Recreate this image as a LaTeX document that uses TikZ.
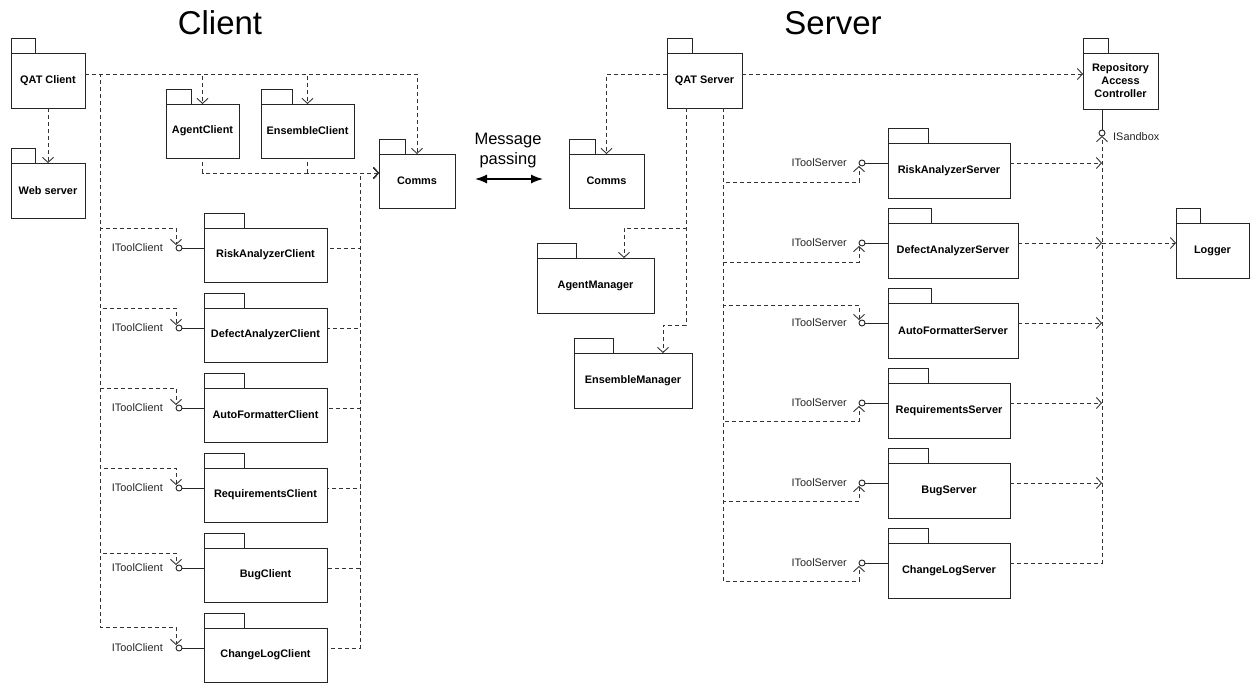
\documentclass[tikz,border=0pt]{standalone}
\usepackage{fontspec}
\setmainfont{Liberation Sans}
\usetikzlibrary{arrows.meta}
\tikzset{
  pkgbox/.style={draw=black!85, line width=0.9pt, fill=white, inner sep=2pt, outer sep=0pt,
    font=\fontsize{10.9}{13}\selectfont\bfseries, align=center},
  tabline/.style={draw=black!85, line width=0.9pt},
  depbase/.style={draw=black!80, line width=0.9pt, dash pattern=on 4pt off 3pt},
  dep/.style={depbase, -{Straight Barb[length=5pt,width=11pt]}},
  deprev/.style={depbase, {Straight Barb[length=5pt,width=11pt]}-},
  lolly/.style={circle, draw=black!85, line width=0.9pt, fill=white, minimum size=6pt,
    inner sep=0pt, outer sep=0pt},
  itf/.style={font=\fontsize{10.9}{13}\selectfont, text=black!85, inner sep=0pt},
  conn/.style={draw=black!85, line width=0.9pt},
  title/.style={font=\fontsize{33}{38}\selectfont, inner sep=0pt},
}
\newcommand\pkg[7]{%
  \node[pkgbox, anchor=north west, minimum width=#4pt, minimum height=#5pt] (#1) at (#2,#3) {#7};
  \draw[tabline] (#1.north west) rectangle ++(#6,-15);
}
\begin{document}
\begin{tikzpicture}[x=1pt,y=-1pt]
\useasboundingbox (0,0) rectangle (1250,683);

% titles
\node[title] (tclient) at (220,23) {Client};
\node[title] (tserver) at (833,23) {Server};

% ---------------- Client side ----------------
\pkg{qatc}{11}{53}{74}{55}{24}{QAT Client}
\pkg{web}{11}{163}{74}{55}{24}{Web server}
\pkg{agentc}{166}{104}{73}{54}{25}{AgentClient}
\pkg{ensc}{261}{104}{93}{54}{31}{EnsembleClient}
\pkg{commc}{379}{154}{76}{54}{26}{Comms}

\draw[dep] (qatc.south) -- (web.north);
\draw[dep] ([yshift=-21pt]qatc.north east) -| (agentc.north);
\draw[dep] ([yshift=-21pt]qatc.north east) -| (ensc.north);
\draw[dep] ([yshift=-21pt]qatc.north east) -| (commc.north);
\draw[deprev] ([yshift=-19pt]commc.north west) -| (agentc.south);
\draw[deprev] ([yshift=-19pt]commc.north west) -| (ensc.south);

\foreach \n/\t/\b/\txt in {
  crisk/228/228/RiskAnalyzerClient,
  cdef/308/308/DefectAnalyzerClient,
  cauto/388/388/AutoFormatterClient,
  creq/468/468/RequirementsClient,
  cbug/548/553/BugClient,
  ccl/628/627/ChangeLogClient}{
  \pkg{\n}{204}{\t}{123}{54}{40}{\txt}
  \node[lolly] (s\n) at (179,\t+20) {};
  \draw[conn] (s\n) -- (\n.west |- s\n);
  \node[itf, anchor=east] (l\n) at (163,\t+20) {IToolClient};
  \draw[dep] ([yshift=-21pt]qatc.north east) -| (100,\b) -| ([xshift=-3pt]s\n.north);
  \draw[deprev] ([yshift=-19pt]commc.north west) -- (360,173) |- (\n.east |- s\n);
}

% message passing
\node[font=\fontsize{16.5}{20}\selectfont, align=center, inner sep=0pt] (mp) at (508,151) {Message\\passing};
\coordinate (mpl) at (475,179);
\coordinate (mpr) at (543,179);
\draw[line width=1.4pt, {Latex[length=12pt,width=9pt]}-{Latex[length=12pt,width=9pt]}] (mpl) -- (mpr);

% ---------------- Server side ----------------
\pkg{comms}{569}{154}{75}{54}{26}{Comms}
\pkg{qats}{667}{53}{75}{55}{25}{QAT Server}
\pkg{rac}{1083}{53}{75}{56}{25}{Repository\\Access\\Controller}
\pkg{agentm}{537}{258}{117}{55}{39}{AgentManager}
\pkg{ensm}{574}{353}{118}{55}{39}{EnsembleManager}
\pkg{logger}{1176}{223}{73}{55}{24}{Logger}

\draw[dep] ([yshift=-21pt]qats.north west) -| (comms.north);
\draw[dep] ([yshift=-21pt]qats.north east) -- ([yshift=-21pt]rac.north west);
\draw[dep] ([xshift=-18.5pt]qats.south) |- (624,228) -- ([xshift=28.5pt]agentm.north);
\draw[dep] ([xshift=-18.5pt]qats.south) |- (663,325) -- ([xshift=30pt]ensm.north);

\node[lolly] (isb) at (1102,133) {};
\draw[conn] (isb |- rac.south) -- (isb);
\node[itf, anchor=west] (lisb) at (1113,137) {ISandbox};

\foreach \n/\t/\b/\a/\w/\tw/\txt in {
  srisk/143/182/south/122/40/RiskAnalyzerServer,
  sdef/223/262/south/130/43/DefectAnalyzerServer,
  sauto/303/305/north/130/43/AutoFormatterServer,
  sreq/383/421/south/122/40/RequirementsServer,
  sbug/463/501/south/122/40/BugServer,
  scl/543/581/south/122/40/ChangeLogServer}{
  \pkg{\n}{888}{\t}{\w}{55}{\tw}{\txt}
  \node[lolly] (s\n) at (862,\t+20) {};
  \draw[conn] (s\n) -- (\n.west |- s\n);
  \node[itf, anchor=east] (l\n) at (847,\t+20) {IToolServer};
  \draw[dep] ([xshift=18.5pt]qats.south) |- (859,\b) -- ([xshift=-3pt]s\n.\a);
}

\draw[dep] (srisk.east |- ssrisk) -- (isb |- ssrisk);
\draw[dep] (sdef.east |- ssdef) -- (isb |- ssdef);
\draw[dep] (sdef.east |- ssdef) -- (logger.west |- ssdef);
\draw[dep] (sauto.east |- ssauto) -- (isb |- ssauto);
\draw[dep] (sreq.east |- ssreq) -- (isb |- ssreq);
\draw[dep] (sbug.east |- ssbug) -- (isb |- ssbug);
\draw[dep] (scl.east |- sscl) -| (isb.south);
\end{tikzpicture}
\end{document}
